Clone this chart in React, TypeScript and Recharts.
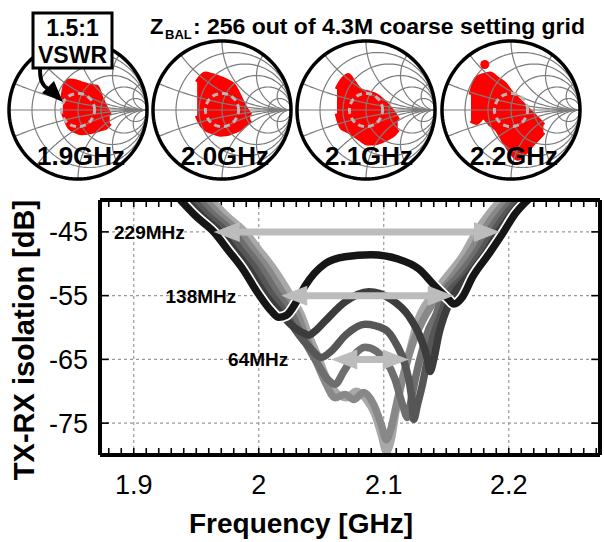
import React from "react";
import {
  ComposedChart,
  Line,
  Area,
  Scatter,
  XAxis,
  YAxis,
  CartesianGrid,
  ReferenceLine,
} from "recharts";

const FONT = "'Liberation Sans', Arial, sans-serif";

// ---------- main plot: TX-RX isolation vs frequency ----------
const FREQ_TICKS = [1.9, 2, 2.1, 2.2];
const DB_TICKS = [-45, -55, -65, -75];
const MINOR_FREQ_TICKS = [
  1.88, 1.89, 1.9, 1.91, 1.92, 1.93, 1.94, 1.95, 1.96, 1.97, 1.98, 1.99,
  2.0, 2.01, 2.02, 2.03, 2.04, 2.05, 2.06, 2.07, 2.08, 2.09, 2.1, 2.11,
  2.12, 2.13, 2.14, 2.15, 2.16, 2.17, 2.18, 2.19, 2.2, 2.21, 2.22, 2.23,
  2.24, 2.25, 2.26, 2.27,
];

// [GHz, dB]
const curve1: [number, number][] = [
  [1.935, -39.5], [1.95, -42.6], [1.964, -45], [1.976, -48], [1.986, -50.5],
  [2.0, -54.8], [2.01, -57.4], [2.016, -58.4], [2.022, -58.1], [2.03, -56.0],
  [2.037, -53.5], [2.053, -50.0], [2.069, -48.9], [2.09, -48.6], [2.112, -49.3],
  [2.128, -50.8], [2.141, -53.5], [2.152, -55.6], [2.156, -56.3], [2.163, -55.2],
  [2.171, -52.1], [2.184, -48.5], [2.195, -45.3], [2.205, -42.2], [2.218, -39.5],
];
const curve2: [number, number][] = [
  [1.94, -39.5], [1.955, -42.6], [1.969, -45], [1.981, -48], [1.991, -50.5],
  [2.005, -54.8], [2.016, -57.4], [2.026, -59.6], [2.034, -60.7], [2.04, -61.2],
  [2.046, -60.4], [2.053, -59.0], [2.069, -56.0], [2.088, -54.4], [2.106, -55.6],
  [2.12, -58.2], [2.13, -61.9], [2.135, -65.0], [2.137, -66.9], [2.14, -65.0],
  [2.144, -61.1], [2.148, -58.4], [2.155, -55.1], [2.167, -52.1], [2.181, -48.5],
  [2.192, -45], [2.202, -42.2], [2.214, -39.5],
];
const curve3: [number, number][] = [
  [1.945, -39.5], [1.96, -42.6], [1.974, -45], [1.986, -48], [1.996, -50.5],
  [2.01, -54.8], [2.02, -57.4], [2.029, -60.3], [2.042, -63.4], [2.05, -64.7],
  [2.058, -63.7], [2.07, -61.1], [2.085, -59.5], [2.101, -60.3], [2.11, -62.6],
  [2.117, -65.8], [2.122, -70.5], [2.124, -74.4], [2.127, -72.1], [2.131, -68.9],
  [2.135, -65.0], [2.14, -61.1], [2.145, -58.4], [2.151, -55.1], [2.164, -52.1],
  [2.177, -48.5], [2.188, -45], [2.198, -42.2], [2.21, -39.5],
];
const curve4: [number, number][] = [
  [1.95, -39.5], [1.965, -42.6], [1.979, -45], [1.991, -48], [2.001, -50.5],
  [2.015, -54.8], [2.025, -57.4], [2.034, -61.1], [2.046, -65.3], [2.055, -68.1],
  [2.061, -68.9], [2.068, -66.9], [2.076, -64.4], [2.085, -63.1], [2.094, -63.7],
  [2.102, -65.3], [2.109, -68.1], [2.115, -72.1], [2.119, -74.1], [2.122, -71.3],
  [2.126, -67.4], [2.131, -63.4], [2.136, -60.3], [2.142, -57.9], [2.147, -55.1],
  [2.159, -52.1], [2.173, -48.5], [2.184, -45], [2.194, -42.2], [2.206, -39.5],
];
const curve5: [number, number][] = [
  [1.955, -39.5], [1.97, -42.6], [1.984, -45], [1.996, -48], [2.006, -50.5],
  [2.02, -54.8], [2.03, -57.6], [2.037, -61.1], [2.047, -65.8], [2.054, -68.9],
  [2.061, -71.0], [2.069, -70.5], [2.076, -71.3], [2.084, -70.2], [2.092, -72.1],
  [2.098, -75.2], [2.102, -77.6], [2.106, -75.7], [2.111, -71.3], [2.117, -66.6],
  [2.123, -62.6], [2.131, -59.0], [2.143, -55.1], [2.155, -52.1], [2.168, -48.5],
  [2.179, -45], [2.189, -42.2], [2.202, -39.5],
];
const curve6: [number, number][] = [
  [1.96, -39.5], [1.975, -42.6], [1.989, -45], [2.001, -48], [2.011, -50.5],
  [2.025, -54.8], [2.034, -58.0], [2.04, -61.1], [2.049, -65.3], [2.054, -67.8],
  [2.061, -70.0], [2.07, -71.0], [2.078, -70.0], [2.086, -71.3], [2.093, -73.7],
  [2.098, -76.8], [2.102, -79.5], [2.106, -77.6], [2.11, -72.9], [2.115, -68.1],
  [2.121, -63.4], [2.127, -59.0], [2.138, -55.1], [2.15, -52.1], [2.164, -48.5],
  [2.174, -45], [2.184, -42.2], [2.196, -39.5],
];

// bandwidth arrows: level [dB], from / to [GHz]
const BW_LABELS = ["229MHz", "138MHz", "64MHz"];
const BW_LEVELS = [-45, -55, -65];
const BW_FROM = [1.964, 2.018, 2.058];
const BW_TO = [2.193, 2.156, 2.12];

// ---------- Smith charts ----------
const SMITH_LABELS = ["1.9GHz", "2.0GHz", "2.1GHz", "2.2GHz"];
// blob outlines in reflection-coefficient plane: [Re, Im low, Im high]
const blob19: [number, number, number][] = [
  [-0.22, -0.02, 0.16], [-0.18, -0.12, 0.38], [-0.12, -0.25, 0.42],
  [-0.04, -0.3, 0.41], [0.05, -0.33, 0.38], [0.15, -0.32, 0.35],
  [0.27, -0.29, 0.33], [0.33, -0.27, 0.18], [0.4, -0.25, 0.03],
  [0.46, -0.19, -0.08],
];
const blob20: [number, number, number][] = [
  [-0.36, -0.08, 0.4], [-0.3, -0.2, 0.48], [-0.24, -0.27, 0.52],
  [-0.15, -0.31, 0.5], [-0.03, -0.35, 0.46], [0.08, -0.34, 0.41],
  [0.16, -0.31, 0.36], [0.24, -0.28, 0.22], [0.32, -0.22, 0.05],
  [0.41, -0.14, -0.08],
];
const blob21: [number, number, number][] = [
  [-0.42, -0.05, 0.3], [-0.35, -0.25, 0.42], [-0.26, -0.3, 0.5],
  [-0.18, -0.35, 0.4], [-0.08, -0.42, 0.28], [0.02, -0.48, 0.25],
  [0.12, -0.48, 0.22], [0.22, -0.45, 0.15], [0.32, -0.4, 0.05],
  [0.4, -0.35, -0.05], [0.46, -0.28, -0.15],
];
const blob22: [number, number, number][] = [
  [-0.58, -0.15, 0.22], [-0.5, -0.18, 0.45], [-0.4, -0.1, 0.5],
  [-0.3, -0.2, 0.52], [-0.2, -0.28, 0.45], [-0.1, -0.45, 0.38],
  [0.0, -0.6, 0.25], [0.1, -0.7, 0.15], [0.2, -0.62, 0.05],
  [0.3, -0.5, -0.05], [0.4, -0.4, -0.15], [0.47, -0.32, -0.22],
];
const spots22: [number, number][] = [[-0.38, 0.66]];
const BLOBS = [blob19, blob20, blob21, blob22];
const SPOTS: [number, number][][] = [[], [], [], spots22];
const VSWR_GAMMA = 0.24;

// layout
const SMITH_CX = [78, 222, 366, 511];
const SMITH_CY = 110;
const SMITH_RPX = 69;
const LABEL_GAP = [29, 45, 43];
const CURVE_COLORS = ["#a8a8a8", "#888888", "#6e6e6e", "#565656", "#3c3c3c", "#161616"];
const X_DOMAIN = [1.873, 2.273];
const Y_DOMAIN = [-80, -40];
const MINOR_TICK_DB = 1.1; // tick length in dB units (~7px)
const MAJOR_TICK_GHZ = 0.007; // tick length in GHz units (~9px)

type Pt = { x: number; y: number };

// Smith grid geometry (chart furniture)
function resistanceCircle(r: number): Pt[] {
  const c = r / (1 + r);
  const rad = 1 / (1 + r);
  return Array.from({ length: 145 }, (_, i) => {
    const t = (i / 144) * 2 * Math.PI;
    return { x: c + rad * Math.cos(t), y: rad * Math.sin(t) };
  });
}
function reactanceArc(xv: number): Pt[] {
  const ax = Math.abs(xv);
  const cy = 1 / ax;
  const rad = 1 / ax;
  const px = (ax * ax - 1) / (ax * ax + 1);
  const py = (2 * ax) / (ax * ax + 1);
  const t0 = -Math.PI / 2;
  let t1 = Math.atan2(py - cy, px - 1);
  if (t1 > t0) t1 -= 2 * Math.PI;
  const s = Math.sign(xv);
  return Array.from({ length: 61 }, (_, i) => {
    const t = t0 + ((t1 - t0) * i) / 60;
    return { x: 1 + rad * Math.cos(t), y: s * (cy + rad * Math.sin(t)) };
  });
}
function ring(radius: number): Pt[] {
  return Array.from({ length: 97 }, (_, i) => {
    const t = (i / 96) * 2 * Math.PI;
    return { x: radius * Math.cos(t), y: radius * Math.sin(t) };
  });
}

const GRID_R = [0.2, 0.5, 1, 2, 5];
const GRID_X = [0.2, 0.5, 1, 2, 5, -0.2, -0.5, -1, -2, -5];
const SMITH_GRID: Pt[][] = [
  [{ x: -1, y: 0 }, { x: 1, y: 0 }],
  ...GRID_R.map(resistanceCircle),
  ...GRID_X.map(reactanceArc),
];
const OUTER = resistanceCircle(0);
const VSWR_RING = ring(VSWR_GAMMA);

function SmithChart({ index }: { index: number }) {
  const size = 2 * SMITH_RPX + 6;
  const blob = BLOBS[index].map(([x, lo, hi]) => ({ x, band: [lo, hi] }));
  const spots = SPOTS[index].map(([x, y]) => ({ x, y }));
  return (
    <div
      style={{
        position: "absolute",
        left: SMITH_CX[index] - size / 2,
        top: SMITH_CY - size / 2,
      }}
    >
      <ComposedChart
        width={size}
        height={size}
        margin={{ top: 3, right: 3, bottom: 3, left: 3 }}
      >
        <XAxis type="number" dataKey="x" domain={[-1, 1]} hide />
        <YAxis type="number" dataKey="y" domain={[-1, 1]} hide />
        {SMITH_GRID.map((pts, i) => (
          <Line
            key={i}
            data={pts}
            dataKey="y"
            type="linear"
            stroke="#7c7c7c"
            strokeWidth={1.2}
            dot={false}
            activeDot={false}
            isAnimationActive={false}
          />
        ))}
        <Area
          data={blob}
          dataKey="band"
          type="monotone"
          fill="#ff0000"
          fillOpacity={1}
          stroke="#ff0000"
          strokeWidth={5}
          dot={false}
          activeDot={false}
          isAnimationActive={false}
        />
        {spots.length > 0 && (
          <Scatter data={spots} fill="#ff0000" isAnimationActive={false} />
        )}
        <Line
          data={VSWR_RING}
          dataKey="y"
          type="linear"
          stroke="#b8b8b8"
          strokeWidth={3}
          strokeDasharray="6 4"
          dot={false}
          activeDot={false}
          isAnimationActive={false}
        />
        <Line
          data={OUTER}
          dataKey="y"
          type="linear"
          stroke="#000"
          strokeWidth={3.5}
          dot={false}
          activeDot={false}
          isAnimationActive={false}
        />
      </ComposedChart>
    </div>
  );
}

function DoubleArrow(props: any) {
  const { x1, x2, y1, text, gap } = props;
  const xa = Math.min(x1, x2);
  const xb = Math.max(x1, x2);
  const y = y1;
  const hl = 26;
  const hw = 10;
  const sw = 3.5;
  const pts = [
    [xa, y], [xa + hl, y - hw], [xa + hl, y - sw], [xb - hl, y - sw],
    [xb - hl, y - hw], [xb, y], [xb - hl, y + hw], [xb - hl, y + sw],
    [xa + hl, y + sw], [xa + hl, y + hw],
  ]
    .map((p) => p.join(","))
    .join(" ");
  return (
    <g>
      <polygon points={pts} fill="#bcbcbc" />
      <text
        x={xa - gap}
        y={y + 7}
        textAnchor="end"
        fontFamily={FONT}
        fontWeight="bold"
        fontSize={19}
        fill="#000"
      >
        {text}
      </text>
    </g>
  );
}

// short inward tick drawn from a reference segment
function TickMark(props: any) {
  const { x1, y1, x2, y2 } = props;
  return <line x1={x1} y1={y1} x2={x2} y2={y2} stroke="#000" strokeWidth={1.6} />;
}

const curves = [curve6, curve5, curve4, curve3, curve2, curve1].map((c) =>
  c.map(([f, db]) => ({ f, db }))
);

function MainChart() {
  return (
    <div style={{ position: "absolute", left: 0, top: 0 }}>
      <ComposedChart
        width={604}
        height={542}
        margin={{ top: 200, right: 4, bottom: 0, left: 0 }}
      >
        <CartesianGrid stroke="#9a9a9a" strokeWidth={1.2} strokeDasharray="3 3" />
        <XAxis
          type="number"
          dataKey="f"
          domain={X_DOMAIN}
          ticks={FREQ_TICKS}
          allowDataOverflow
          height={87}
          tickLine={false}
          tickSize={0}
          tickMargin={20}
          axisLine={{ stroke: "#000", strokeWidth: 4 }}
          tick={{ fill: "#000", fontSize: 27, fontFamily: FONT }}
          tickFormatter={(v: number) => String(v)}
        />
        <XAxis
          xAxisId="mt"
          orientation="top"
          type="number"
          domain={X_DOMAIN}
          allowDataOverflow
          mirror
          axisLine={{ stroke: "#000", strokeWidth: 4 }}
          tickLine={false}
          tick={false}
        />
        <YAxis
          type="number"
          domain={Y_DOMAIN}
          ticks={DB_TICKS}
          allowDataOverflow
          width={100}
          tickLine={false}
          tickSize={0}
          tickMargin={12}
          axisLine={{ stroke: "#000", strokeWidth: 4 }}
          tick={{ fill: "#000", fontSize: 27, fontFamily: FONT }}
        />
        <YAxis
          yAxisId="r"
          orientation="right"
          type="number"
          domain={Y_DOMAIN}
          allowDataOverflow
          mirror
          axisLine={{ stroke: "#000", strokeWidth: 4 }}
          tickLine={false}
          tick={false}
        />
        {MINOR_FREQ_TICKS.map((t) => (
          <React.Fragment key={"mt" + t}>
            <ReferenceLine
              ifOverflow="visible"
              segment={[{ x: t, y: Y_DOMAIN[0] }, { x: t, y: Y_DOMAIN[0] + MINOR_TICK_DB }]}
              shape={TickMark}
            />
            <ReferenceLine
              ifOverflow="visible"
              segment={[{ x: t, y: Y_DOMAIN[1] }, { x: t, y: Y_DOMAIN[1] - MINOR_TICK_DB }]}
              shape={TickMark}
            />
          </React.Fragment>
        ))}
        {DB_TICKS.map((t) => (
          <React.Fragment key={"yt" + t}>
            <ReferenceLine
              ifOverflow="visible"
              segment={[{ x: X_DOMAIN[0], y: t }, { x: X_DOMAIN[0] + MAJOR_TICK_GHZ, y: t }]}
              shape={TickMark}
            />
            <ReferenceLine
              ifOverflow="visible"
              segment={[{ x: X_DOMAIN[1], y: t }, { x: X_DOMAIN[1] - MAJOR_TICK_GHZ, y: t }]}
              shape={TickMark}
            />
          </React.Fragment>
        ))}
        {curves.map((data, i) => (
          <React.Fragment key={i}>
            {i === curves.length - 1 && (
              <Line
                data={data}
                dataKey="db"
                type="monotone"
                stroke="#ffffff"
                strokeWidth={11}
                dot={false}
                activeDot={false}
                isAnimationActive={false}
              />
            )}
            <Line
              data={data}
              dataKey="db"
              type="monotone"
              stroke={CURVE_COLORS[i]}
              strokeWidth={7.5}
              strokeLinecap="round"
              dot={false}
              activeDot={false}
              isAnimationActive={false}
            />
          </React.Fragment>
        ))}
        {BW_LABELS.map((label, i) => (
          <ReferenceLine
            key={label}
            segment={[
              { x: BW_FROM[i], y: BW_LEVELS[i] },
              { x: BW_TO[i], y: BW_LEVELS[i] },
            ]}
            shape={(p: any) => (
              <DoubleArrow {...p} text={label} gap={LABEL_GAP[i]} />
            )}
          />
        ))}
      </ComposedChart>
    </div>
  );
}

function Annotations() {
  return (
    <svg
      width={604}
      height={542}
      style={{ position: "absolute", left: 0, top: 0, pointerEvents: "none" }}
    >
      <g fontFamily={FONT} fontWeight="bold" fill="#000">
        <text x={150} y={34} fontSize={22}>Z</text>
        <text x={165} y={39} fontSize={13}>BAL</text>
        <text
          x={193}
          y={34}
          fontSize={22}
          textLength={392}
          lengthAdjust="spacingAndGlyphs"
        >
          : 256 out of 4.3M coarse setting grid
        </text>
        {SMITH_LABELS.map((t, i) => (
          <text
            key={t}
            x={SMITH_CX[i] + 3}
            y={165}
            fontSize={25}
            textAnchor="middle"
            textLength={88}
            lengthAdjust="spacingAndGlyphs"
          >
            {t}
          </text>
        ))}
      </g>
      <rect x={33} y={13} width={79} height={55} fill="#fff" stroke="#000" strokeWidth={3} />
      <g fontFamily={FONT} fontWeight="bold" fontSize={23} textAnchor="middle" fill="#000">
        <text x={72.5} y={36}>1.5:1</text>
        <text x={72.5} y={63}>VSWR</text>
      </g>
      <path d="M 40 69 C 40 80 42 85 48 89" fill="none" stroke="#000" strokeWidth={4} />
      <polygon points="63,102 42,93 54,81" fill="#000" />
      <text
        x={301}
        y={533}
        fontFamily={FONT}
        fontWeight="bold"
        fontSize={28}
        textAnchor="middle"
      >
        Frequency [GHz]
      </text>
      <text
        x={34}
        y={340}
        transform="rotate(-90 34 340)"
        fontFamily={FONT}
        fontWeight="bold"
        fontSize={29}
        textAnchor="middle"
      >
        TX-RX isolation [dB]
      </text>
    </svg>
  );
}

export default function App() {
  return (
    <div
      style={{
        position: "absolute",
        left: 0,
        top: 0,
        width: 604,
        height: 542,
        background: "#fff",
        overflow: "hidden",
      }}
    >
      {SMITH_LABELS.map((_, i) => (
        <SmithChart key={i} index={i} />
      ))}
      <MainChart />
      <Annotations />
    </div>
  );
}
